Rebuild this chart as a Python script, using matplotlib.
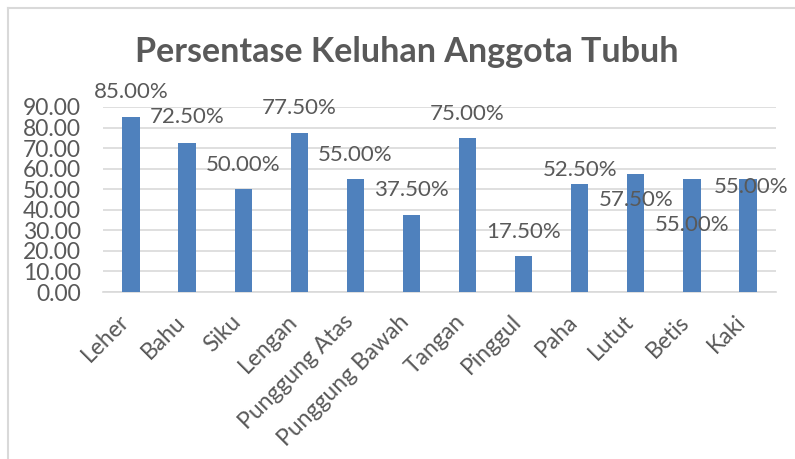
import matplotlib
matplotlib.use("Agg")
import matplotlib.pyplot as plt
import matplotlib.transforms as mtransforms
from matplotlib.lines import Line2D

# data
categories = ["Leher", "Bahu", "Siku", "Lengan", "Punggung Atas", "Punggung Bawah",
              "Tangan", "Pinggul", "Paha", "Lutut", "Betis", "Kaki"]
values = [85.0, 72.5, 50.0, 77.5, 55.0, 37.5, 75.0, 17.5, 52.5, 57.5, 55.0, 55.0]
yticks = [0, 10, 20, 30, 40, 50, 60, 70, 80, 90]

# posisi label data (seperti di Excel, tidak rata)
label_y = [97.3, 85.2, 61.8, 89.5, 66.7, 49.6, 86.6, 29.2, 59.4, 44.8, 32.6, 51.1]
label_dx = [0, 0, 0, 0, 0, 0, 0, 0, 0, 0, 0, 0.05]

plt.rcParams['font.family'] = ['Lato', 'DejaVu Sans']
txt = '#595959'

fig = plt.figure(figsize=(7.95, 4.59), dpi=100)
ax = fig.add_axes([0.1296, 0.3638, 0.8465, 0.4031])

x = range(len(categories))
ax.bar(x, values, width=0.31, color='#4F81BD', zorder=3)
ax.set_xlim(-0.5, len(categories) - 0.5)
ax.set_ylim(0, 90)
ax.set_yticks(yticks)
ax.set_yticklabels([f"{v:.2f}" for v in yticks], fontsize=16.5, color=txt)
ax.set_xticks(list(x))
ax.set_xticklabels(categories, rotation=45, ha='right', va='center',
                   rotation_mode='anchor', fontsize=16.5, color=txt)
ax.tick_params(axis='both', length=0)
ax.tick_params(axis='y', pad=16)
ax.tick_params(axis='x', pad=19)
geser = mtransforms.ScaledTranslation(-4 / 72, 0, fig.dpi_scale_trans)
for lb in ax.get_xticklabels():
    lb.set_transform(lb.get_transform() + geser)
ax.grid(axis='y', color='#D9D9D9', linewidth=1.2, zorder=0)
for s in ['top', 'right', 'left']:
    ax.spines[s].set_visible(False)
ax.spines['bottom'].set_color('#D9D9D9')
ax.spines['bottom'].set_linewidth(1.2)

for i, v in enumerate(values):
    ax.text(i + label_dx[i], label_y[i], f"{v:.2f}%", ha='center', va='center',
            fontsize=16, color=txt, zorder=4)

fig.text(0.512, 0.887, "Persentase Keluhan Anggota Tubuh", ha='center', va='center',
         fontsize=24.5, fontweight='bold', color=txt)

# bingkai chart
fig.add_artist(Line2D([8 / 795, 8 / 795], [0, 1 - 8 / 459], color='#D9D9D9', linewidth=1.5))
fig.add_artist(Line2D([8 / 795, 1], [1 - 8 / 459, 1 - 8 / 459], color='#D9D9D9', linewidth=1.5))

fig.savefig("out.png", dpi=100)
